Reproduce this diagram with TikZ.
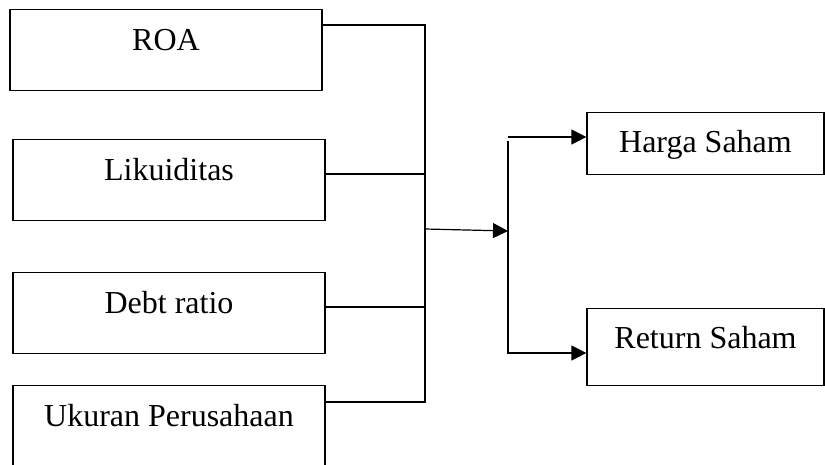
\documentclass[tikz,border=0pt]{standalone}
\usepackage{fontspec}
\setmainfont{Liberation Serif}
\usetikzlibrary{arrows.meta}
\tikzset{
  varbox/.style={draw, line width=0.6pt, inner sep=0pt, minimum width=156pt,
    text height=20.5pt, text depth=20pt, anchor=north,
    font=\fontsize{16}{19}\selectfont},
  hasilbox/.style={varbox, minimum width=118.5pt, text height=20pt},
  panah/.style={-{Triangle[length=7.5pt,width=7.5pt]}}
}

\begin{document}
\begin{tikzpicture}[x=0.5pt,y=-0.5pt,line width=0.6pt]
\useasboundingbox (0,0) rectangle (825,465);
\clip (0,0) rectangle (825,465);
\node[varbox] (roa) at (166,9) {ROA};
\node[varbox] (liku) at (169,139) {Likuiditas};
\node[varbox] (debt) at (169,272) {Debt ratio};
\node[varbox, text depth=30pt] (ukur) at (169,385) {Ukuran Perusahaan};
\node[hasilbox, text depth=11pt] (harga) at (705.5,112) {Harga Saham};
\node[hasilbox, text depth=18.5pt] (return) at (705.5,308) {Return Saham};
\coordinate (t1) at (425,25);
\coordinate (t2) at (425,174);
\coordinate (t3) at (425,307);
\coordinate (t4) at (425,402);
\coordinate (j1) at (425,229);
\coordinate (j2) at (508,231);
\coordinate (h) at (508,137);
\coordinate (s1) at (508,141);
\coordinate (r) at (508,353);
\draw (roa.east |- t1) -| (j1);
\draw (ukur.east |- t4) -| (j1);
\draw (liku.east |- t2) -- (t2);
\draw (debt.east |- t3) -- (t3);
\draw[panah] (j1) -- (j2);
\draw[panah] (h) -- (harga.west |- h);
\draw[panah] (s1) -- (r) -- (return.west |- r);
\end{tikzpicture}
\end{document}
